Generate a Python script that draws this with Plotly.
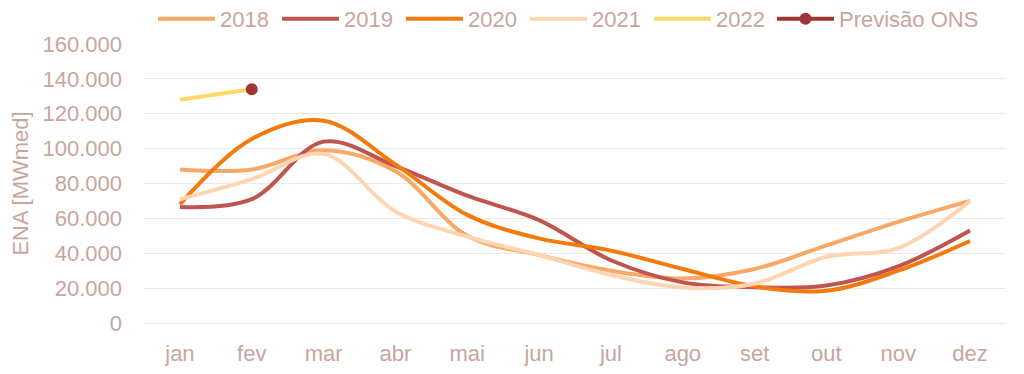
import plotly.graph_objects as go

months = ["jan", "fev", "mar", "abr", "mai", "jun", "jul", "ago", "set", "out", "nov", "dez"]

ena_2018 = [88000, 88000, 99000, 87000, 50000, 39000, 30000, 25500, 31000, 44500, 58000, 70000]
ena_2019 = [66500, 71000, 104000, 90000, 73000, 59000, 36000, 23300, 20500, 21500, 32500, 53000]
ena_2020 = [68000, 105500, 116000, 91000, 62000, 48500, 41500, 31000, 21000, 18500, 30000, 47000]
ena_2021 = [71000, 82500, 97000, 64000, 49500, 39000, 27500, 20300, 22500, 38000, 43000, 70000]
ena_2022 = [128000, 134000]
months_2022 = ["jan", "fev"]
previsao_ons = [134000]
months_previsao = ["fev"]

y_ticks = [0, 20000, 40000, 60000, 80000, 100000, 120000, 140000, 160000]

TEXT = "#C9A69D"
GRID = "#F1E6E4"
FONT = "Liberation Sans, Arial, sans-serif"
FS = 22
PREV_COLOR = "#9E3535"

# figure geometry (page has an 8px body margin)
W, H = 1016, 366
ML, MR, MT, MB = 136, 18, 36, 51

fig = go.Figure()

series = [
    ("2018", months, ena_2018, "#F9A867"),
    ("2019", months, ena_2019, "#C0544F"),
    ("2020", months, ena_2020, "#F47A0C"),
    ("2021", months, ena_2021, "#FDD5B1"),
    ("2022", months_2022, ena_2022, "#FFD966"),
]
for name, xs, ys, color in series:
    fig.add_trace(go.Scatter(
        x=xs, y=ys, name=name, mode="lines",
        line=dict(color=color, width=4, shape="spline", smoothing=1),
        hoverinfo="skip", legend="legend",
    ))

fig.add_trace(go.Scatter(
    x=months_previsao, y=previsao_ons, name="Previsão ONS", mode="lines+markers",
    line=dict(color=PREV_COLOR, width=4),
    marker=dict(color=PREV_COLOR, size=12),
    hoverinfo="skip", legend="legend2",
))

leg_font = dict(family=FONT, size=FS, color=TEXT)
leg_y = 1 - 11 / H

fig.update_layout(
    width=W, height=H,
    margin=dict(l=ML, r=MR, t=MT, b=MB),
    paper_bgcolor="white", plot_bgcolor="white",
    separators=",.",
    font=dict(family=FONT, size=FS, color=TEXT),
    showlegend=True,
    legend=dict(
        orientation="h", xref="container", yref="container",
        x=145 / W, xanchor="left", y=leg_y, yanchor="middle",
        font=leg_font, itemwidth=57, entrywidth=52, entrywidthmode="pixels",
        bgcolor="rgba(0,0,0,0)", itemclick=False, itemdoubleclick=False,
    ),
    legend2=dict(
        orientation="h", xref="container", yref="container",
        x=764 / W, xanchor="left", y=leg_y, yanchor="middle",
        font=leg_font, itemwidth=57,
        bgcolor="rgba(0,0,0,0)", itemclick=False, itemdoubleclick=False,
    ),
    xaxis=dict(
        type="category", categoryorder="array", categoryarray=months,
        range=[-0.5, 11.5], showgrid=False, zeroline=False, showline=False,
        ticks="", ticklabelstandoff=15, automargin=False,
        tickfont=dict(family=FONT, size=FS, color=TEXT),
    ),
    yaxis=dict(
        range=[0, 160000], tickvals=y_ticks, tickformat=",d",
        showgrid=True, gridcolor=GRID, gridwidth=1.3,
        zeroline=True, zerolinecolor=GRID, zerolinewidth=1.3,
        showline=False, ticks="", ticklabelstandoff=21,
        tickfont=dict(family=FONT, size=FS, color=TEXT),
        title=dict(text="ENA [MWmed]", font=dict(family=FONT, size=FS, color=TEXT), standoff=14),
        automargin=False,
    ),
)

fig.write_html("out.html")
